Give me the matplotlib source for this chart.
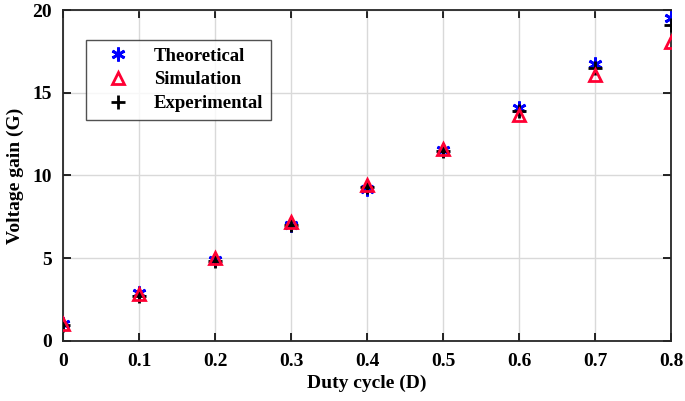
import matplotlib
matplotlib.use('Agg')
import matplotlib.pyplot as plt

duty = [0, 0.1, 0.2, 0.3, 0.4, 0.5, 0.6, 0.7, 0.8]
theoretical = [1.0, 2.9, 4.9, 7.0, 9.2, 11.55, 14.1, 16.75, 19.5]
simulation = [1.0, 2.85, 5.0, 7.2, 9.4, 11.6, 13.65, 16.07, 18.07]
experimental = [0.95, 2.7, 4.85, 7.0, 9.3, 11.5, 13.9, 16.5, 19.1]

plt.rcParams['font.family'] = 'Liberation Serif'
plt.rcParams['font.weight'] = 'bold'

fig = plt.figure(figsize=(6.85, 4.01), dpi=100)
ax = fig.add_axes([0.092, 0.15, 0.888, 0.825])

ax.plot(duty, theoretical, linestyle='none', marker=(6, 2, 0), markersize=10,
        markeredgewidth=2.0, color='blue', label='Theoretical', zorder=3)
ax.plot(duty, experimental, linestyle='none', marker='+', markersize=10,
        markeredgewidth=2.0, color='black', label='Experimental', zorder=4)
ax.plot(duty, simulation, linestyle='none', marker='^', markersize=9,
        markeredgewidth=2.0, markerfacecolor='none', markeredgecolor='#ff0033',
        label='Simulation', zorder=5)

ax.set_xlim(0, 0.8)
ax.set_ylim(0, 20)
ax.set_xticks([0, 0.1, 0.2, 0.3, 0.4, 0.5, 0.6, 0.7, 0.8])
ax.set_xticklabels(['0', '0.1', '0.2', '0.3', '0.4', '0.5', '0.6', '0.7', '0.8'])
ax.set_yticks([0, 5, 10, 15, 20])
ax.grid(True, color='#d9d9d9', linewidth=1)
ax.set_axisbelow(True)
ax.tick_params(direction='in', top=True, right=True, length=6, width=1.2,
               labelsize=14)
ax.tick_params(axis='x', pad=9)
ax.tick_params(axis='y', pad=8)
for s in ax.spines.values():
    s.set_linewidth(1.3)
    s.set_color('#262626')

ax.set_xlabel('Duty cycle (D)', fontsize=14, fontweight='bold', labelpad=3)
ax.set_ylabel('Voltage gain (G)', fontsize=14, fontweight='bold', labelpad=6)

handles, labels = ax.get_legend_handles_labels()
order = [0, 2, 1]
leg = ax.legend([handles[i] for i in order], [labels[i] for i in order],
                loc='upper left', bbox_to_anchor=(0.038, 0.909),
                borderaxespad=0, frameon=True, fancybox=False,
                edgecolor='#262626', handletextpad=0.6, borderpad=0.4,
                labelspacing=0.35, handlelength=2.6,
                prop={'weight': 'bold', 'size': 13.5})
leg.get_frame().set_linewidth(1.0)

fig.savefig('out.png', dpi=100)
